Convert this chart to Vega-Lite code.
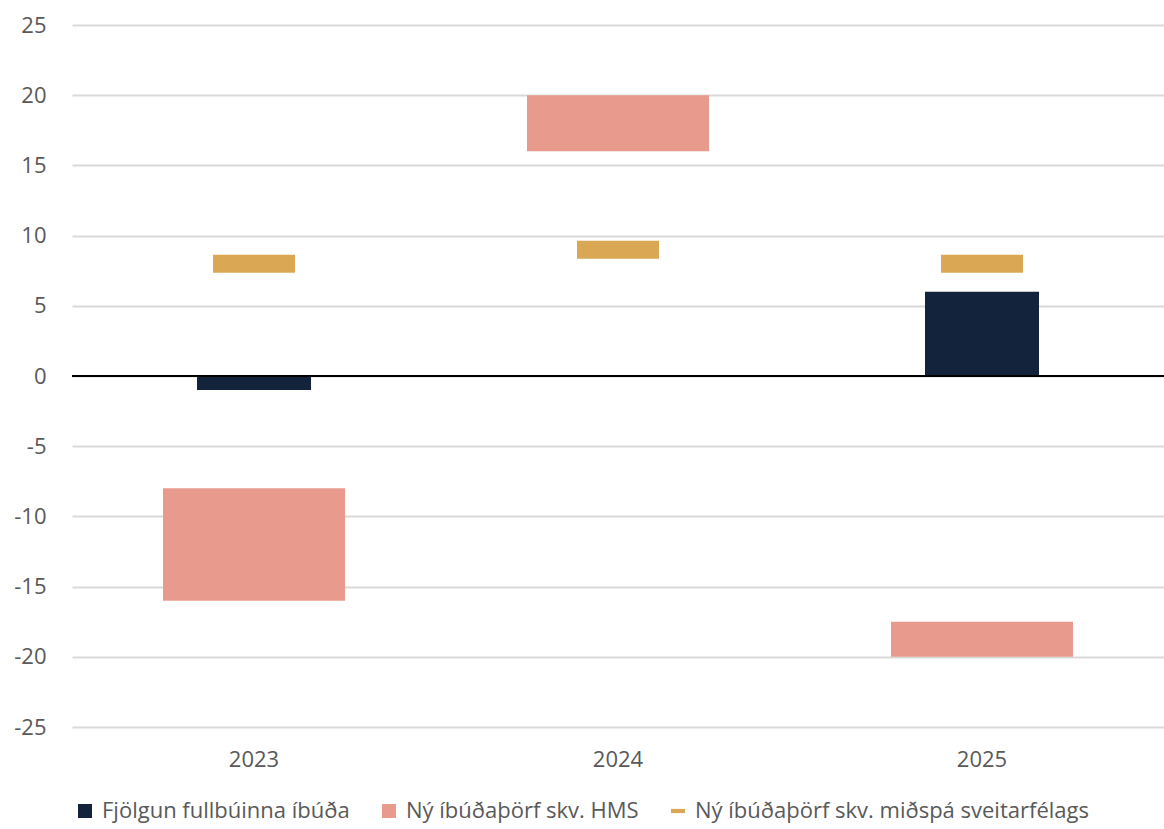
{
  "$schema": "https://vega.github.io/schema/vega-lite/v6.json",
  "width": 1092,
  "height": 702,
  "autosize": {"type": "none"},
  "padding": {"left": 72, "top": 25, "right": 0, "bottom": 102},
  "background": "white",
  "config": {
    "view": {"stroke": null},
    "font": "Open Sans",
    "axis": {"labelFont": "Open Sans", "labelFontSize": 22, "labelColor": "#595959", "titleFont": "Open Sans"}
  },
  "data": {
    "values": [
      {"year": "2023", "series": "Fjölgun fullbúinna íbúða", "start": 0, "end": -1},
      {"year": "2023", "series": "Ný íbúðaþörf skv. HMS", "start": -8, "end": -16},
      {"year": "2023", "series": "Ný íbúðaþörf skv. miðspá sveitarfélags", "start": 8, "end": 8},
      {"year": "2024", "series": "Ný íbúðaþörf skv. HMS", "start": 16, "end": 20},
      {"year": "2024", "series": "Ný íbúðaþörf skv. miðspá sveitarfélags", "start": 9, "end": 9},
      {"year": "2025", "series": "Fjölgun fullbúinna íbúða", "start": 0, "end": 6},
      {"year": "2025", "series": "Ný íbúðaþörf skv. HMS", "start": -17.5, "end": -20},
      {"year": "2025", "series": "Ný íbúðaþörf skv. miðspá sveitarfélags", "start": 8, "end": 8}
    ]
  },
  "layer": [
    {
      "transform": [{"filter": "datum.series === 'Ný íbúðaþörf skv. HMS'"}],
      "mark": {"type": "bar", "width": 182},
      "encoding": {
        "x": {"field": "year", "type": "ordinal", "scale": {"paddingInner": 0, "paddingOuter": 0},
              "axis": {"title": null, "domain": false, "ticks": false, "tickSize": 0, "labelPadding": 22, "labelAngle": 0, "grid": false}},
        "y": {"field": "start", "type": "quantitative", "scale": {"domain": [-25, 25], "nice": false, "zero": false},
              "axis": {"title": null, "domain": false, "ticks": false, "tickSize": 0, "labelPadding": 26, "values": [-25,-20,-15,-10,-5,0,5,10,15,20,25], "labelExpr": "toString(datum.value)", "grid": true, "gridColor": "#D9D9D9", "gridWidth": 2}},
        "y2": {"field": "end"},
        "color": {"field": "series", "type": "nominal",
          "scale": {"domain": ["Fjölgun fullbúinna íbúða", "Ný íbúðaþörf skv. HMS", "Ný íbúðaþörf skv. miðspá sveitarfélags"], "range": ["#14233C", "#E89B8C", "#DAA855"]},
          "legend": {"title": null, "orient": "none", "legendX": 2, "legendY": 775, "direction": "horizontal", "padding": 0,
            "labelFontSize": 22, "labelColor": "#595959", "labelFont": "Open Sans", "labelLimit": 0,
            "symbolSize": 196, "symbolType": "square", "symbolStrokeWidth": 0, "symbolOpacity": 1,
            "columnPadding": 28, "labelOffset": 6,
            "encode": {"symbols": {"update": {"shape": {"signal": "datum.value === 'Ný íbúðaþörf skv. miðspá sveitarfélags' ? 'M-1,-0.3L1,-0.3L1,0.3L-1,0.3Z' : 'square'"}}}}}
        }
      }
    },
    {
      "transform": [{"filter": "datum.series === 'Fjölgun fullbúinna íbúða'"}],
      "mark": {"type": "bar", "width": 114},
      "encoding": {
        "x": {"field": "year", "type": "ordinal"},
        "y": {"field": "start", "type": "quantitative"},
        "y2": {"field": "end"},
        "color": {"field": "series", "type": "nominal"}
      }
    },
    {
      "transform": [{"filter": "datum.series === 'Ný íbúðaþörf skv. miðspá sveitarfélags'"}],
      "mark": {"type": "tick", "size": 82, "thickness": 18, "opacity": 1},
      "encoding": {
        "x": {"field": "year", "type": "ordinal"},
        "y": {"field": "start", "type": "quantitative"},
        "color": {"field": "series", "type": "nominal"}
      }
    },
    {
      "data": {"values": [{}]},
      "mark": {"type": "rule", "color": "black", "strokeWidth": 2},
      "encoding": {"y": {"datum": 0}}
    }
  ]
}
